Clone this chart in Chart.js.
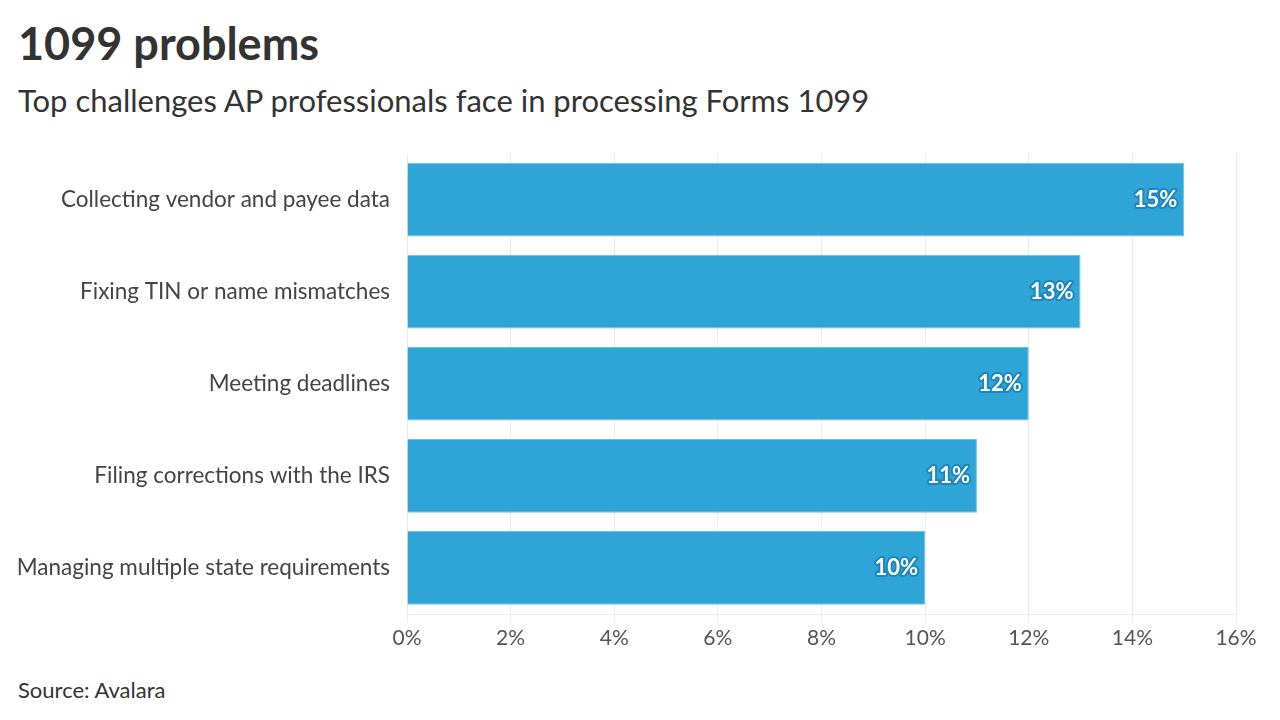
<!DOCTYPE html>
<html>
<head>
<meta charset="utf-8">
<script src="https://cdn.jsdelivr.net/npm/chart.js@4"></script>
<style>
  body { margin: 0; width: 1280px; height: 720px; background: #fff; font-family: Lato, sans-serif; position: relative; overflow: hidden; }
  #title { position: absolute; left: 18px; top: 16px; font-size: 45px; font-weight: bold; color: #333; }
  #subtitle { position: absolute; left: 18px; top: 81px; font-size: 31px; color: #333; }
  #source { position: absolute; left: 18px; top: 676px; font-size: 22px; color: #333; }
  #wrap { position: absolute; left: 0; top: 131px; width: 1280px; height: 529px; }
</style>
</head>
<body>
<div id="title">1099 problems</div>
<div id="subtitle">Top challenges AP professionals face in processing Forms 1099</div>
<div id="wrap"><canvas id="chart"></canvas></div>
<div id="source">Source: Avalara</div>
<script>
const categories = [
  'Collecting vendor and payee data',
  'Fixing TIN or name mismatches',
  'Meeting deadlines',
  'Filing corrections with the IRS',
  'Managing multiple state requirements'
];
const shares = [15, 13, 12, 11, 10];
const xTicks = [0, 2, 4, 6, 8, 10, 12, 14, 16];

const barLabels = {
  id: 'barLabels',
  afterDatasetsDraw(chart) {
    const ctx = chart.ctx;
    const meta = chart.getDatasetMeta(0);
    ctx.save();
    ctx.font = 'bold 22px Lato';
    ctx.textAlign = 'right';
    ctx.textBaseline = 'middle';
    ctx.lineJoin = 'round';
    meta.data.forEach((bar, i) => {
      const txt = shares[i] + '%';
      const x = bar.x - 7;
      ctx.strokeStyle = '#1c86c0';
      ctx.lineWidth = 4;
      ctx.strokeText(txt, x, bar.y);
      ctx.fillStyle = '#fff';
      ctx.fillText(txt, x, bar.y);
    });
    ctx.restore();
  }
};

new Chart(document.getElementById('chart'), {
  type: 'bar',
  data: {
    labels: categories,
    datasets: [{
      data: shares,
      backgroundColor: '#2fa4d7',
      borderColor: '#6cc3e8',
      borderWidth: 1,
      borderSkipped: 'left',
      categoryPercentage: 0.8,
      barPercentage: 1.0
    }]
  },
  options: {
    indexAxis: 'y',
    responsive: true,
    maintainAspectRatio: false,
    animation: false,
    layout: { padding: { top: 14, right: 44, left: 0, bottom: 0 } },
    plugins: { legend: { display: false }, tooltip: { enabled: false } },
    scales: {
      x: {
        min: 0,
        max: 16,
        afterBuildTicks(scale) { scale.ticks = xTicks.map(v => ({ value: v })); },
        afterFit(scale) { scale.height = 46; },
        grid: { color: '#ebebeb', tickLength: 8, drawOnChartArea: true },
        border: { color: '#ebebeb' },
        ticks: {
          color: '#555',
          padding: 4,
          font: { family: 'Lato', size: 21 },
          callback: v => v + '%'
        }
      },
      y: {
        afterFit(scale) { scale.width = 407; },
        grid: { display: false },
        border: { display: false },
        ticks: {
          color: '#444',
          padding: 9,
          font: { family: 'Lato', size: 22.5 }
        }
      }
    }
  },
  plugins: [barLabels]
});
</script>
</body>
</html>
